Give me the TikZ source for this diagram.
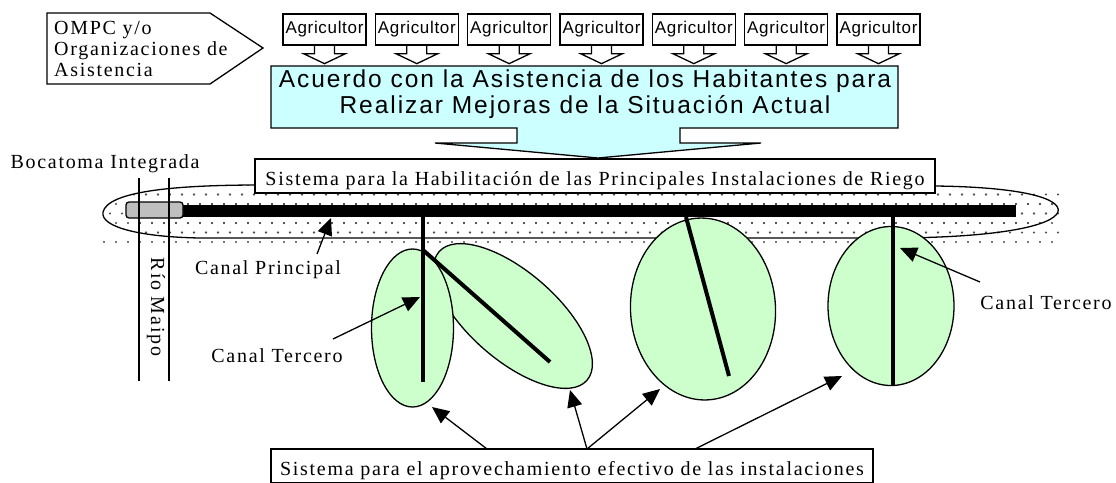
\documentclass[tikz,border=0pt]{standalone}
\usepackage{fontspec}
\setmainfont{Liberation Serif}
\newfontfamily\serifsp{Liberation Serif}[LetterSpace=8.5]
\newfontfamily\sansagri{Liberation Sans}[LetterSpace=4]
\newfontfamily\sansbig{Liberation Sans}[LetterSpace=8]
\usetikzlibrary{arrows.meta}
\definecolor{cyanfill}{HTML}{CCFFFF}
\definecolor{greenfill}{HTML}{CCFFCC}
\definecolor{dotgray}{HTML}{4A4A4A}
\begin{document}
\begin{tikzpicture}[x=1pt,y=-1pt,
  serif/.style={font=\serifsp\fontsize{20}{21}\selectfont},
  ln/.style={line width=1.3pt},
  agri/.style={draw, ln, fill=white, font=\sansagri\fontsize{17}{20}\selectfont, minimum width=83pt, minimum height=31pt, inner sep=0pt},
  sysbox/.style={draw, ln, fill=white, serif, inner sep=0pt, text height=22pt, text depth=2.6pt, minimum height=34pt},
  lbl/.style={serif, inner sep=0pt, anchor=base},
  arr/.style={ln, -{Triangle[length=17pt,width=15pt]}},
  gell/.style={draw, ln, fill=greenfill},
  canal/.style={line width=4pt},
  dotpt/.style={fill=dotgray}
]
\useasboundingbox (0,0) rectangle (1116,482);

% ---------- dotted band ----------
\begin{scope}
\clip (103,212) .. controls (108,192) and (170,185) .. (260,185) -- (935,186) .. controls (1020,187) and (1062,198) .. (1058,212) .. controls (1052,226) and (1000,237) .. (900,238) -- (200,238) .. controls (140,237) and (100,227) .. (103,212) -- cycle;
\foreach \r in {0,...,6} {
  \pgfmathsetmacro\yy{185+9.5*\r}
  \pgfmathsetmacro\off{mod(\r,2)*6}
  \foreach \c in {0,...,80} {
    \fill[dotpt] ({104+\off+12*\c},\yy) circle[radius=1.1pt];
  }
}
\end{scope}
\begin{scope}
\clip (140,188) rectangle (1061,246) (103,236) rectangle (1061,246);
\foreach \r in {0,...,6} {
  \pgfmathsetmacro\yy{185+9.5*\r}
  \pgfmathsetmacro\off{mod(\r,2)*6}
  \foreach \c in {0,...,80} {
    \fill[dotpt] ({104+\off+12*\c},\yy) circle[radius=1.1pt];
  }
}
\end{scope}
\draw[ln] (103,212) .. controls (108,192) and (170,185) .. (260,185) -- (935,186) .. controls (1020,187) and (1062,198) .. (1058,212) .. controls (1052,226) and (1000,237) .. (900,238) -- (200,238) .. controls (140,237) and (100,227) .. (103,212) -- cycle;

% ---------- canal principal ----------
\fill (183,205) rectangle (1016,217);
\draw[ln, fill=gray!50, rounded corners=3pt] (126,202) rectangle (183,218);
\draw[ln] (139,178) -- (139,381);
\draw[ln] (169,178) -- (169,381);
\node[serif, rotate=-90, inner sep=0pt] (rio) at (156,307) {Río Maipo};
\node[lbl] (boca) at (105,168) {Bocatoma Integrada};

% ---------- sistema habilitacion ----------
\node[sysbox, minimum width=680pt] (hab) at (595,176) {Sistema para la Habilitación de las Principales Instalaciones de Riego};

% ---------- green areas ----------
\draw[gell, rotate around={-41:(513,316)}] (513,316) ellipse [x radius=98pt, y radius=44pt];
\draw[gell] (412.5,328) ellipse [x radius=41pt, y radius=79pt];
\draw[gell, rotate around={3:(703,309)}] (703,309) ellipse [x radius=72.5pt, y radius=91pt];
\draw[gell] (891,306) ellipse [x radius=63pt, y radius=79.5pt];

\draw[canal] (423,217) -- (423,382);
\draw[canal] (423,250) -- (550,362);
\draw[canal] (686,217) -- (729,376);
\draw[canal] (893,217) -- (893,385);

% ---------- labels ----------
\node[lbl] (cpl) at (268,274) {Canal Principal};
\coordinate (cps) at (317,254);
\coordinate (cpt) at (331,218);
\draw[arr] (cps) -- (cpt);

\node[lbl] (ct1) at (277,362) {Canal Tercero};
\coordinate (ct1s) at (333,339);
\coordinate (ct1t) at (420,297);
\draw[arr] (ct1s) -- (ct1t);

\node[lbl] (ct2) at (1046,309) {Canal Tercero};
\coordinate (ct2s) at (980,282);
\coordinate (ct2t) at (900,248);
\draw[arr] (ct2s) -- (ct2t);

% ---------- bottom box ----------
\node[sysbox, minimum width=602pt] (apro) at (572,466) {Sistema para el aprovechamiento efectivo de las instalaciones};
\coordinate (b1) at (487,449);
\coordinate (b2) at (587,449);
\coordinate (b3) at (695,449);
\coordinate (t1) at (432,407);
\coordinate (t2) at (570,390);
\coordinate (t3) at (660,389);
\coordinate (t4) at (842,376);
\draw[arr] (b1) -- (t1);
\draw[arr] (b2) -- (t2);
\draw[arr] (b2) -- (t3);
\draw[arr] (b3) -- (t4);

% ---------- top ----------
\draw[ln, fill=white] (47,13) -- (210,13) -- (263,48) -- (210,84) -- (47,84) -- cycle;
\node[serif, align=left, anchor=north west, inner sep=0pt] (ompc) at (54,21) {OMPC y/o\\Organizaciones de\\Asistencia};

\draw[ln, fill=cyanfill] (271,66) -- (898,66) -- (898,128) -- (680,128) -- (680,143) -- (761,143) -- (598,158) -- (435,143) -- (517,143) -- (517,128) -- (271,128) -- cycle;
\node[font=\sansbig\fontsize{24.5}{26}\selectfont, align=center, inner sep=0pt] (acuerdo) at (585,94.5) {Acuerdo con la Asistencia de los Habitantes para\\Realizar Mejoras de la Situación Actual};

\foreach \i in {0,...,6} {
  \node[agri] (ag\i) at ({324.5+92.33*\i},29.5) {Agricultor};
  \draw[ln] ([xshift=-10pt]ag\i.south) -- ++(0,8) -- ++(-11,0) -- ++(21,10) -- ++(21,-10) -- ++(-11,0) -- ++(0,-8);
}
\end{tikzpicture}
\end{document}
